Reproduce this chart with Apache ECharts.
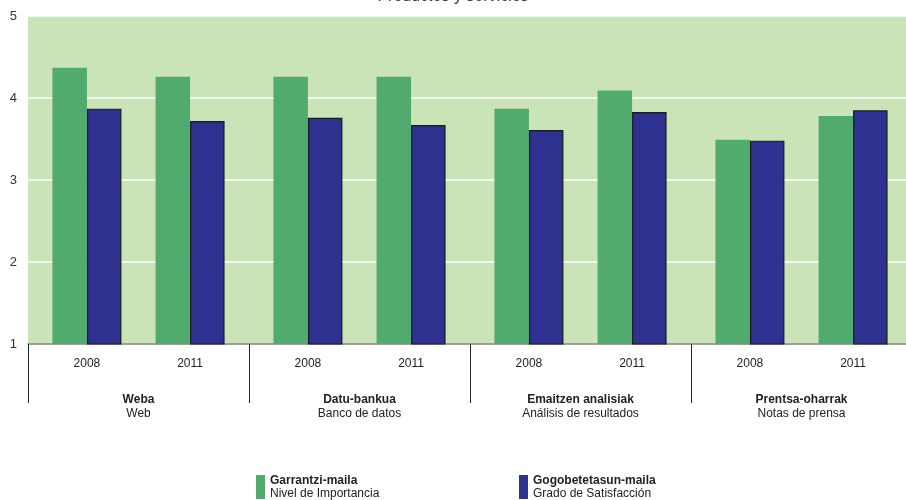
<!DOCTYPE html>
<html><head><meta charset="utf-8">
<script src="https://cdn.jsdelivr.net/npm/echarts@6/dist/echarts.min.js"></script>
<style>html,body{margin:0;padding:0;background:#fff}#c{width:906px;height:500px}</style>
</head><body><div id="c"></div>
<script>
const groupsEu = ['Weba', 'Datu-bankua', 'Emaitzen analisiak', 'Prentsa-oharrak'];
const groupsEs = ['Web', 'Banco de datos', 'Análisis de resultados', 'Notas de prensa'];
const years = ['2008', '2011'];
// values ordered: group0-2008, group0-2011, group1-2008, ...
const importance = [4.37, 4.26, 4.26, 4.26, 3.87, 4.09, 3.49, 3.78];
const satisfaction = [3.87, 3.72, 3.76, 3.67, 3.61, 3.83, 3.48, 3.85];
const yTicks = [1, 2, 3, 4, 5];
const seriesNames = [
  ['Garrantzi-maila', 'Nivel de Importancia'],
  ['Gogobetetasun-maila', 'Grado de Satisfacción']
];

// slot layout along a value axis: each group spans 15 units, years at 4 and 11
const GROUP_SPAN = 15, YEAR_POS = [4, 11];
function slotX(i) { return Math.floor(i / 2) * GROUP_SPAN + YEAR_POS[i % 2]; }
const impData = importance.map((v, i) => [slotX(i), v]);
const satData = satisfaction.map((v, i) => [slotX(i), v]);

const font = 'Liberation Sans, Arial, sans-serif';
const chart = echarts.init(document.getElementById('c'));
chart.setOption({
  animation: false,
  textStyle: { fontFamily: font },
  title: {
    text: 'Productos y servicios', left: 'center', top: -16,
    textStyle: { fontSize: 16, fontWeight: 'normal', color: '#333', fontFamily: font }
  },
  grid: { left: 28, right: -6, top: 16, bottom: 156, show: true, backgroundColor: '#cbe4b7', borderWidth: 0, outerBoundsMode: 'none', containLabel: false },
  legend: {
    left: 256, top: 474, padding: 0, itemWidth: 9, itemHeight: 24, itemGap: 9, itemTextGap: 6,
    icon: 'rect',
    itemStyle: { borderWidth: 0 },
    data: seriesNames.map(s => s[0]),
    formatter: function (name) {
      const s = seriesNames.find(x => x[0] === name);
      return '{b|' + s[0] + '}\n{n|' + s[1] + '}';
    },
    textStyle: {
      verticalAlign: 'middle', lineHeight: 13,
      rich: {
        b: { fontSize: 12, fontWeight: 'bold', color: '#222', lineHeight: 13, width: 240, fontFamily: font },
        n: { fontSize: 12, color: '#222', lineHeight: 13, width: 240, fontFamily: font }
      }
    }
  },
  xAxis: [{
    type: 'value', min: 0, max: GROUP_SPAN * groupsEu.length, interval: 1,
    axisLine: { show: true, lineStyle: { color: '#808080', width: 1.5 } },
    axisTick: { show: false }, splitLine: { show: false },
    axisLabel: {
      margin: 14, fontSize: 12, color: '#222', fontFamily: font,
      formatter: function (v) {
        const r = v % GROUP_SPAN;
        const k = YEAR_POS.indexOf(r);
        return k >= 0 ? years[k] : '';
      }
    }
  }, {
    type: 'category', position: 'bottom', data: groupsEu.map((g, i) => i),
    axisLine: { show: false },
    axisTick: { show: true, length: 59, interval: 0, lineStyle: { color: '#222', width: 1 } },
    axisLabel: {
      interval: 0, margin: 49,
      formatter: function (v) { return '{b|' + groupsEu[v] + '}\n{n|' + groupsEs[v] + '}'; },
      rich: {
        b: { fontSize: 12, fontWeight: 'bold', color: '#222', lineHeight: 14, fontFamily: font },
        n: { fontSize: 12, color: '#222', lineHeight: 14, fontFamily: font }
      }
    }
  }],
  yAxis: {
    type: 'value', min: yTicks[0], max: yTicks[yTicks.length - 1], interval: 1,
    axisLine: { show: false }, axisTick: { show: false },
    axisLabel: { margin: 11, fontSize: 13, color: '#333', fontFamily: font },
    splitLine: { lineStyle: { color: '#ffffff', width: 1.5 } }
  },
  series: [{
    name: seriesNames[0][0], type: 'bar', xAxisIndex: 0, data: impData,
    barWidth: 34.5, barGap: '0%',
    itemStyle: { color: '#52ab6e' }
  }, {
    name: seriesNames[1][0], type: 'bar', xAxisIndex: 0, data: satData,
    barWidth: 34.5, barGap: '0%',
    itemStyle: { color: '#2e318f', borderColor: '#1a1a1a', borderWidth: 1.2 }
  }]
});
</script></body></html>
